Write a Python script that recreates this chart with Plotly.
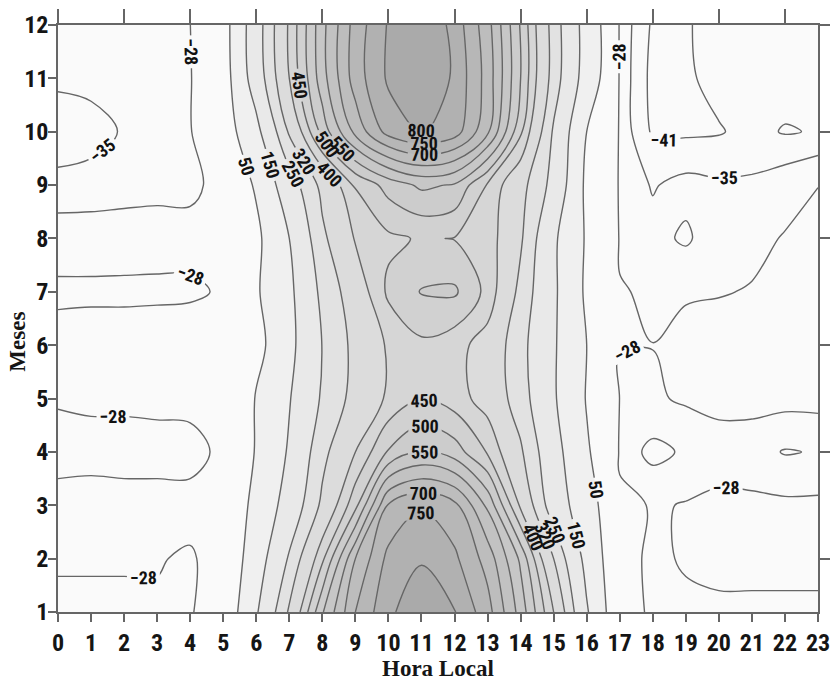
import plotly.graph_objects as go

# ---------------- data ----------------
hours = list(range(24))
months = list(range(1, 13))
hour_labels = [str(h) for h in hours]
month_labels = [str(m) for m in months]

# values per month, hours 0..23
m01 = [-30, -30, -31, -29, -29, -20, 140, 330, 545, 700, 790, 835, 803, 720, 580, 400, 160, -25, -29, -30, -30, -30, -30, -30]
m02 = [-27, -27, -26.5, -27.5, -29, -24, 100, 260, 440, 650, 765, 795, 760, 680, 540, 320, 120, -24, -30, -27, -25, -25, -25, -25]
m03 = [-26, -25.5, -25, -25, -25, -24, 75, 190, 335, 485, 705, 745, 715, 590, 390, 205, 90, -24, -29, -27.5, -26.5, -26.5, -26.5, -26.5]
m04 = [-30, -30, -31, -31, -31, -26, 55, 160, 300, 400, 505, 553, 525, 445, 330, 185, 60, -31, -37, -34, -31, -32, -35.5, -34.5]
m05 = [-27.5, -27, -26.5, -26, -25.5, -15, 55, 145, 260, 345, 410, 448, 425, 375, 285, 160, 45, -28.5, -29, -27, -26, -25.5, -25.5, -25.5]
m06 = [-24, -23, -23, -22, -22, -15, 20, 125, 252, 340, 408, 440, 420, 375, 275, 160, 50, -27.9, -27.9, -25, -24, -24, -24, -24]
m07 = [-30, -30, -30, -30, -29.5, -27, 40, 130, 270, 360, 460, 503, 508, 435, 300, 165, 35, -27, -30, -29, -28.5, -27.5, -26, -25]
m08 = [-23, -23, -23.5, -24, -25, -24, 30, 150, 305, 405, 440, 455, 448, 430, 330, 165, 40, -30, -33, -36, -31, -30, -27.5, -26]
m09 = [-33.5, -33, -31.5, -30.5, -30, -25, 60, 210, 340, 455, 520, 560, 545, 445, 345, 225, 30, -31, -35.5, -33, -34, -34, -31, -28.1]
m10 = [-38, -37, -34.5, -32, -29.5, 2, 122, 330, 520, 665, 770, 805, 775, 660, 460, 240, 50, -31, -42, -42, -41.5, -39, -41.5, -40.5]
m11 = [-34, -33.5, -32, -31, -29.5, 5, 200, 400, 580, 725, 808, 858, 790, 680, 500, 290, 105, -31, -43, -42, -39, -38, -38, -38]
m12 = [-31, -31, -30.5, -30, -28.2, 10, 210, 410, 585, 722, 805, 860, 780, 670, 495, 290, 110, -31, -42, -41.5, -39, -37, -37, -37]

z = [m01, m02, m03, m04, m05, m06, m07, m08, m09, m10, m11, m12]

levels = [-41, -35, -28, 50, 150, 250, 320, 400, 450, 500, 550, 600, 650, 700, 750, 800]
labeled_levels = [-41, -35, -28, 50, 150, 250, 320, 400, 450, 500, 550, 700, 750, 800]

# ---------------- styles ----------------
fill_colors = {
    50: '#f0f0f0', 150: '#e9e9e9', 250: '#e2e2e2', 320: '#dcdcdc', 400: '#d6d6d6',
    450: '#d1d1d1', 500: '#cccccc', 550: '#c7c7c7', 600: '#c2c2c2', 650: '#bdbdbd',
    700: '#b7b7b7', 750: '#b1b1b1', 800: '#aaaaaa',
}
line_color = '#666666'
smooth = 1.0
narrow = 'Roboto Condensed, Liberation Sans Narrow, Arial Narrow, Liberation Sans, sans-serif'
tick_font = dict(family=narrow, size=24, color='#151515', weight='bold')
title_font = dict(family='Liberation Serif, Times New Roman, serif', size=23, color='#151515', weight='bold')
label_font = dict(family=narrow, size=18, color='#111111', weight='bold')

fig = go.Figure()

# filled bands: region above each level, stacked from low to high
for lev in levels:
    if lev not in fill_colors:
        continue
    fig.add_trace(go.Contour(
        z=z, x=hours, y=months,
        contours=dict(type='constraint', operation='<', value=lev, showlabels=False),
        fillcolor=fill_colors[lev],
        line=dict(width=0, smoothing=smooth, color=fill_colors[lev]),
        showscale=False, hoverinfo='skip', showlegend=False,
    ))

# contour lines with value labels
for lev in levels:
    fig.add_trace(go.Contour(
        z=z, x=hours, y=months,
        autocontour=False,
        contours=dict(start=lev, end=lev, size=1, coloring='none',
                      showlabels=lev in labeled_levels, labelfont=label_font),
        line=dict(color=line_color, width=1.4, smoothing=smooth),
        showscale=False, hoverinfo='skip', showlegend=False,
    ))

# dummy trace for the secondary (top / right) tick axes
fig.add_trace(go.Scatter(x=[None], y=[None], xaxis='x2', yaxis='y2', showlegend=False, hoverinfo='skip'))

axis_line = dict(showline=True, linecolor=line_color, linewidth=1.6, showgrid=False, zeroline=False,
                 automargin=False)

fig.update_layout(
    width=830, height=680,
    margin=dict(l=58, r=12, t=25, b=68, pad=0),
    paper_bgcolor='white', plot_bgcolor='#fafafa',
    xaxis=dict(range=[0, 23], tickmode='array', tickvals=hours, ticktext=hour_labels,
               ticks='outside', ticklen=8, tickwidth=1.5, tickcolor=line_color, mirror=True,
               tickfont=tick_font, ticklabeloverflow='allow', **axis_line),
    yaxis=dict(range=[1, 12], tickmode='array', tickvals=months, ticktext=month_labels,
               ticks='outside', ticklen=8, tickwidth=1.5, tickcolor=line_color, mirror=True,
               tickfont=tick_font, ticklabeloverflow='allow', ticklabelstandoff=-5, **axis_line),
    xaxis2=dict(overlaying='x', side='top', range=[0, 23], tickmode='array',
                tickvals=hours[::2], showticklabels=False, ticks='outside', ticklen=15,
                tickwidth=1.5, tickcolor=line_color, showgrid=False, zeroline=False, showline=False,
                automargin=False),
    yaxis2=dict(overlaying='y', side='right', range=[1, 12], tickmode='array',
                tickvals=months[1::2], showticklabels=False, ticks='outside', ticklen=12,
                tickwidth=1.5, tickcolor=line_color, showgrid=False, zeroline=False, showline=False,
                automargin=False),
    annotations=[
        dict(text='Meses', font=title_font, textangle=-90, showarrow=False,
             xref='paper', yref='paper', x=-0.053, y=0.46, xanchor='center', yanchor='middle'),
        dict(text='Hora Local', font=title_font, showarrow=False,
             xref='paper', yref='paper', x=0.5, y=-0.1158, xanchor='center', yanchor='bottom', yshift=-3),
    ],
)

fig.write_html('out.html')
